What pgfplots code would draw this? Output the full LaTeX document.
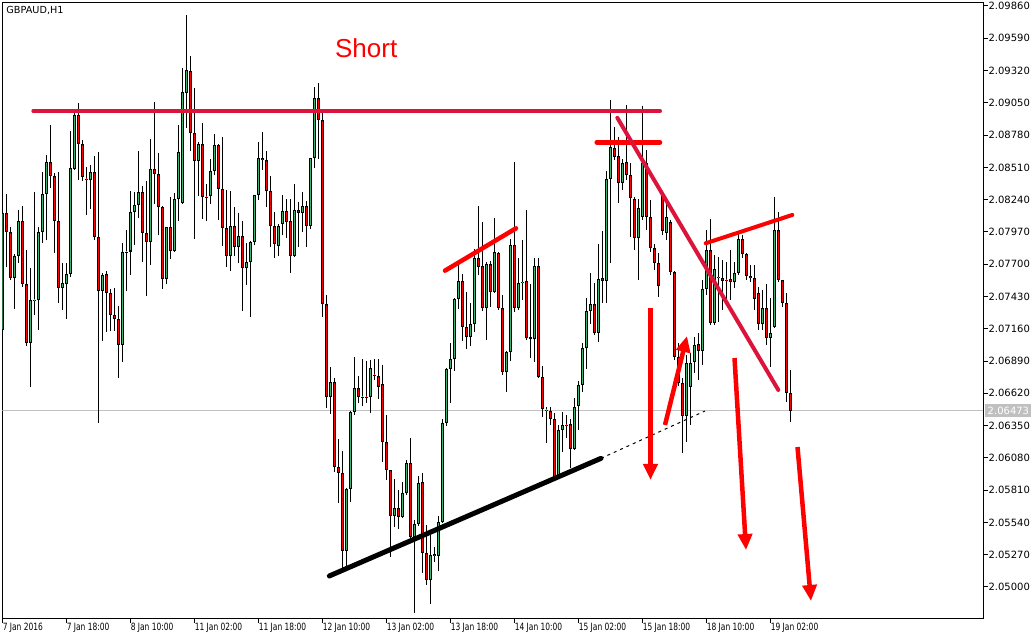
\documentclass[border=0pt]{standalone}
\usepackage{fontspec}
\setmainfont{DejaVu Sans}
\newfontfamily\xfont[FakeStretch=0.75]{DejaVu Sans}
\newfontfamily\shortfont{Liberation Sans}
\usepackage{pgfplots}
\usepackage{pgfplotstable}
\pgfplotsset{compat=1.18}
\usetikzlibrary{arrows.meta}
\definecolor{bullg}{RGB}{60,179,113}
\definecolor{bearr}{RGB}{255,0,0}
\definecolor{crim}{RGB}{220,20,60}
\definecolor{pgray}{RGB}{192,192,192}

\pgfplotstableread{
i o h l c
0 2.07150 2.08153 2.06798 2.08128
3 2.07585 2.07785 2.07325 2.07769
4 2.07769 2.08153 2.07710 2.08061
7 2.07041 2.07668 2.06673 2.07400
8 2.07400 2.08304 2.07275 2.07404
9 2.07400 2.08011 2.07150 2.07969
10 2.07969 2.08471 2.07877 2.08287
11 2.08287 2.08613 2.07902 2.08555
15 2.07501 2.07710 2.07317 2.07543
16 2.07534 2.07710 2.07242 2.07618
17 2.07618 2.08814 2.07593 2.08505
18 2.08496 2.08965 2.08488 2.08948
22 2.08404 2.08530 2.08162 2.08471
25 2.07476 2.07626 2.07058 2.07610
30 2.07024 2.07877 2.06882 2.07802
31 2.07802 2.07986 2.07476 2.07806
32 2.07806 2.08312 2.07610 2.08137
33 2.08137 2.08304 2.07861 2.08195
34 2.08195 2.08647 2.08086 2.08304
37 2.07886 2.08747 2.07693 2.08496
41 2.07576 2.08015 2.07534 2.08011
43 2.07810 2.08296 2.07802 2.08245
44 2.08245 2.08864 2.08061 2.08639
45 2.08212 2.09341 2.08205 2.09140
46 2.09132 2.09785 2.08839 2.09324
49 2.08563 2.08722 2.08270 2.08705
52 2.08270 2.08580 2.08204 2.08480
53 2.08480 2.08789 2.08446 2.08697
57 2.07769 2.08312 2.07643 2.08020
59 2.07844 2.08128 2.07710 2.07936
61 2.07668 2.07877 2.07526 2.07718
62 2.07718 2.07894 2.07258 2.07886
63 2.07886 2.08283 2.07861 2.08279
64 2.08279 2.08722 2.08237 2.08588
69 2.07852 2.08036 2.07769 2.08020
70 2.08036 2.08279 2.07944 2.08145
73 2.07769 2.08371 2.07760 2.08153
75 2.08128 2.08304 2.07969 2.08187
77 2.08020 2.08592 2.07994 2.08588
78 2.08588 2.09182 2.08505 2.09090
82 2.06589 2.06840 2.06447 2.06715
86 2.05301 2.05824 2.05167 2.05820
87 2.05820 2.06468 2.05711 2.06464
88 2.06464 2.06924 2.06439 2.06664
90 2.06589 2.06907 2.06514 2.06593
92 2.06589 2.06899 2.06455 2.06832
98 2.05594 2.05903 2.05502 2.05661
100 2.05585 2.05878 2.05577 2.05786
101 2.05786 2.06062 2.05769 2.06037
103 2.05418 2.05560 2.04782 2.05527
104 2.05527 2.05928 2.05510 2.05870
107 2.05058 2.05451 2.04858 2.05267
109 2.05259 2.05594 2.05134 2.05544
110 2.05544 2.06405 2.05535 2.06372
111 2.06372 2.06832 2.06347 2.06823
112 2.06823 2.07041 2.06539 2.06907
113 2.06907 2.07417 2.06807 2.07409
114 2.07409 2.07702 2.07325 2.07559
117 2.07091 2.07375 2.07016 2.07200
118 2.07200 2.07827 2.07133 2.07752
121 2.07334 2.07718 2.07066 2.07702
123 2.07467 2.08086 2.07459 2.07802
126 2.06798 2.06970 2.06631 2.06966
127 2.06966 2.07911 2.06890 2.07861
129 2.07334 2.07752 2.07317 2.07543
130 2.07543 2.07902 2.07400 2.07551
133 2.07074 2.07752 2.06882 2.07685
136 2.06480 2.06505 2.06204 2.06484
139 2.05920 2.06355 2.05912 2.06313
140 2.06313 2.06464 2.06129 2.06355
143 2.06154 2.06581 2.06146 2.06505
144 2.06514 2.06723 2.06313 2.06690
145 2.06690 2.07041 2.06631 2.06999
146 2.06999 2.07417 2.06823 2.07308
147 2.07308 2.07626 2.07200 2.07367
149 2.07124 2.07869 2.07049 2.07576
151 2.07559 2.08480 2.07375 2.08413
152 2.08413 2.09074 2.07710 2.08680
155 2.08379 2.08580 2.08321 2.08547
159 2.07919 2.08245 2.07568 2.08170
160 2.08095 2.09023 2.08070 2.08547
166 2.07961 2.08220 2.07902 2.08095
171 2.06430 2.06940 2.06213 2.06874
172 2.06673 2.06957 2.06355 2.06874
173 2.06882 2.07091 2.06790 2.07024
175 2.06974 2.07568 2.06857 2.07493
176 2.07493 2.07986 2.07442 2.07819
178 2.07208 2.07777 2.07191 2.07660
179 2.07585 2.07760 2.07217 2.07589
183 2.07551 2.07718 2.07501 2.07626
184 2.07626 2.07969 2.07610 2.07911
190 2.07200 2.07484 2.07150 2.07334
192 2.07083 2.07417 2.06840 2.07124
193 2.07175 2.08262 2.07170 2.07986
}\bull

\pgfplotstableread{
i o h l c
1 2.08128 2.08287 2.07677 2.07969
2 2.07969 2.08011 2.07568 2.07585
5 2.08061 2.08187 2.07509 2.07534
6 2.07534 2.07819 2.07016 2.07041
12 2.08555 2.08864 2.08337 2.08438
13 2.08438 2.08463 2.07794 2.08061
14 2.08061 2.08471 2.07375 2.07501
19 2.08948 2.09048 2.08404 2.08705
20 2.08705 2.08739 2.08396 2.08429
21 2.08413 2.08513 2.08112 2.08409
23 2.08471 2.08605 2.07902 2.07927
24 2.07927 2.08639 2.06372 2.07476
26 2.07618 2.07643 2.07133 2.07459
27 2.07459 2.07493 2.07141 2.07275
28 2.07275 2.07501 2.07141 2.07242
29 2.07242 2.07350 2.06748 2.07024
35 2.08304 2.08354 2.07718 2.07961
36 2.07961 2.08396 2.07434 2.07886
38 2.08496 2.09057 2.08204 2.08454
39 2.08454 2.08630 2.07944 2.08178
40 2.08178 2.08185 2.07493 2.07576
42 2.08011 2.08262 2.07743 2.07810
47 2.09316 2.09442 2.08647 2.08797
48 2.08797 2.09174 2.07911 2.08563
50 2.08705 2.08881 2.08078 2.08262
51 2.08266 2.08371 2.08061 2.08262
54 2.08697 2.08705 2.08070 2.08329
55 2.08329 2.08764 2.07852 2.08003
56 2.08003 2.08321 2.07677 2.07769
58 2.08020 2.08178 2.07769 2.07844
60 2.07936 2.08061 2.07308 2.07668
65 2.08588 2.08806 2.08488 2.08572
66 2.08572 2.08647 2.08178 2.08312
67 2.08312 2.08438 2.07844 2.08020
68 2.08020 2.08137 2.07752 2.07869
71 2.08145 2.08245 2.07919 2.08053
72 2.08061 2.08245 2.07626 2.07769
74 2.08153 2.08220 2.07844 2.08128
76 2.08187 2.08229 2.07844 2.08020
79 2.09090 2.09216 2.08580 2.08906
80 2.08906 2.08990 2.07258 2.07367
81 2.07367 2.07442 2.06497 2.06589
83 2.06715 2.06748 2.05962 2.06004
84 2.06004 2.06238 2.05702 2.05953
85 2.05953 2.06137 2.05159 2.05301
89 2.06664 2.06765 2.06539 2.06589
91 2.06593 2.06890 2.06539 2.06589
93 2.06777 2.06907 2.06731 2.06773
94 2.06765 2.06907 2.06572 2.06673
95 2.06698 2.06857 2.06045 2.06213
96 2.06213 2.06439 2.05895 2.05978
97 2.05978 2.05982 2.05251 2.05594
99 2.05661 2.05811 2.05485 2.05585
102 2.06037 2.06246 2.05393 2.05418
105 2.05878 2.05953 2.05117 2.05284
106 2.05284 2.05518 2.05017 2.05058
108 2.05275 2.05334 2.05209 2.05259
115 2.07559 2.07618 2.07058 2.07175
116 2.07175 2.07467 2.06991 2.07091
119 2.07752 2.08187 2.07610 2.07677
120 2.07685 2.08053 2.07308 2.07334
122 2.07702 2.07727 2.07342 2.07467
124 2.07794 2.07802 2.07317 2.07334
125 2.07334 2.07442 2.06773 2.06798
128 2.07861 2.08555 2.07300 2.07334
131 2.07559 2.08153 2.07066 2.07083
132 2.07091 2.07534 2.06915 2.07074
134 2.07685 2.07752 2.06748 2.06756
135 2.06756 2.06848 2.06422 2.06489
137 2.06472 2.06505 2.06355 2.06405
138 2.06405 2.06455 2.05904 2.05912
141 2.06355 2.06439 2.06246 2.06351
142 2.06363 2.06405 2.05995 2.06154
148 2.07367 2.07543 2.07108 2.07124
150 2.07585 2.07978 2.07375 2.07559
153 2.08672 2.08848 2.08572 2.08597
154 2.08605 2.08764 2.08212 2.08379
156 2.08555 2.09032 2.08404 2.08446
157 2.08446 2.08547 2.07927 2.08254
158 2.08245 2.08262 2.07819 2.07919
161 2.08547 2.08655 2.07986 2.08095
162 2.08095 2.08237 2.07802 2.07836
163 2.07836 2.07869 2.07651 2.07710
164 2.07710 2.07794 2.07426 2.07518
165 2.08270 2.08279 2.07944 2.07978
167 2.08053 2.08070 2.07610 2.07635
168 2.07635 2.07640 2.06899 2.06924
169 2.06924 2.07041 2.06681 2.06706
170 2.06706 2.06748 2.06121 2.06430
174 2.07032 2.07124 2.06731 2.06974
177 2.07819 2.08078 2.07191 2.07208
180 2.07585 2.07735 2.07317 2.07559
181 2.07568 2.07718 2.07375 2.07564
182 2.07576 2.07819 2.07400 2.07551
185 2.07911 2.07944 2.07752 2.07785
186 2.07785 2.07790 2.07568 2.07601
187 2.07601 2.07693 2.07551 2.07585
188 2.07585 2.07693 2.07317 2.07409
189 2.07459 2.07509 2.07150 2.07200
191 2.07334 2.07534 2.07024 2.07083
194 2.07986 2.08137 2.07551 2.07568
195 2.07568 2.07572 2.07342 2.07375
196 2.07375 2.07459 2.06547 2.06623
197 2.06623 2.06815 2.06380 2.06473
}\bear

\pgfplotsset{
  candlebar/.style 2 args={draw=none, mark=none,
    error bars/.cd, y dir=plus, y explicit, error mark=none,
    error bar style={line width=#1, draw=#2}},
}

\begin{document}
\begin{tikzpicture}
\begin{axis}[
  scale only axis, width=490.25pt, height=307.75pt,
  xmin=-0.02, xmax=245.105, ymin=2.0474043, ymax=2.098891,
  axis line style={line width=0.5pt, black},
  tick align=outside, major tick length=2.25pt,
  tick style={black, line width=0.5pt},
  xtick={0,16,32,48,64,80,96,112,128,144,160,176,192},
  xticklabels={7 Jan 2016,7 Jan 18:00,8 Jan 10:00,11 Jan 02:00,11 Jan 18:00,12 Jan 10:00,13 Jan 02:00,13 Jan 18:00,14 Jan 10:00,15 Jan 02:00,15 Jan 18:00,18 Jan 10:00,19 Jan 02:00},
  xtick pos=bottom,
  xticklabel style={font=\xfont\fontsize{5}{6}\selectfont, anchor=north west, inner sep=0pt, xshift=-0.1pt},
  ytick={2.05,2.0527,2.0554,2.0581,2.0608,2.0635,2.0662,2.0689,2.0716,2.0743,2.077,2.0797,2.0824,2.0851,2.0878,2.0905,2.0932,2.0959,2.0986},
  yticklabels={2.05000,2.05270,2.05540,2.05810,2.06080,2.06350,2.06620,2.06890,2.07160,2.07430,2.07700,2.07970,2.08240,2.08510,2.08780,2.09050,2.09320,2.09590,2.09860},
  ytick pos=right, yticklabel pos=right,
  yticklabel style={font=\fontsize{5}{6}\selectfont, anchor=west, inner sep=0pt, xshift=0.3pt},
  scaled y ticks=false,
]
% current price line
\addplot[pgray, line width=0.5pt] coordinates {(-0.02,2.06473) (245.105,2.06473)};
% wicks
\addplot[candlebar={0.5pt}{black}] table[x=i, y=l, y error plus expr=\thisrow{h}-\thisrow{l}] {\bull};
\addplot[candlebar={0.5pt}{black}] table[x=i, y=l, y error plus expr=\thisrow{h}-\thisrow{l}] {\bear};
% bodies: outline
\addplot[candlebar={1.5pt}{black}] table[x=i, y=o, y error plus expr=\thisrow{c}-\thisrow{o}] {\bull};
\addplot[candlebar={1.5pt}{black}] table[x=i, y=c, y error plus expr=\thisrow{o}-\thisrow{c}] {\bear};
% bodies: fill
\addplot[candlebar={0.5pt}{bullg}] table[x=i, y expr=\thisrow{o}+0.00009, y error plus expr=\thisrow{c}-\thisrow{o}-0.00017] {\bull};
\addplot[candlebar={0.5pt}{bearr}] table[x=i, y expr=\thisrow{c}+0.00009, y error plus expr=\thisrow{o}-\thisrow{c}-0.00017] {\bear};

% annotations
\addplot[crim, line width=2pt, line cap=round] coordinates {(7.68,2.08981) (164.36,2.08981)};
\addplot[red, line width=2.25pt, line cap=round] coordinates {(148.53,2.08720) (164.36,2.08720)};
\addplot[crim, line width=2pt, line cap=round] coordinates {(153.68,2.08925) (193.93,2.06648)};
\addplot[red, line width=2.25pt, line cap=round] coordinates {(110.6,2.07646) (128.35,2.08000)};
\addplot[red, line width=2pt, line cap=round] coordinates {(175.78,2.07875) (197.43,2.08112)};
\addplot[black, line width=2.5pt, line cap=round] coordinates {(81.68,2.05092) (149.6,2.06076)};
\addplot[black, line width=0.5pt, dash pattern=on 1.5pt off 2pt] coordinates {(149.6,2.06076) (175.6,2.06472)};
\addplot[red, line width=2.25pt, -{Triangle[length=8pt,width=7pt]}] coordinates {(161.98,2.07334) (161.98,2.05895)};
\addplot[red, line width=2.25pt, -{Triangle[length=8pt,width=7pt]}] coordinates {(165.6,2.06355) (171.1,2.07099)};
\addplot[red, line width=2.25pt, -{Triangle[length=8pt,width=7pt]}] coordinates {(182.98,2.06915) (185.86,2.05309)};
\addplot[red, line width=2.25pt, -{Triangle[length=8pt,width=7pt]}] coordinates {(198.73,2.06171) (202.1,2.04883)};

\node[text=red, font=\shortfont\fontsize{13}{15}\selectfont] at (axis cs:90.9,2.09508) {Short};
\node[anchor=base west, inner sep=0pt, font=\fontsize{4.85}{6}\selectfont, xshift=1.75pt, yshift=-5.4pt] at (rel axis cs:0,1) {GBPAUD,H1};

\coordinate (SW) at (rel axis cs:0,0);
\coordinate (P) at (axis cs:245.105,2.06473);
\end{axis}
\node[fill=pgray, text=white, anchor=west, inner sep=0pt, minimum width=23pt, minimum height=6.5pt, font=\fontsize{5}{6}\selectfont] at ([xshift=1pt]P) {2.06473};
\path (SW) ++(-1.25pt,-10.5pt) rectangle ++(518pt,319.5pt);
\end{tikzpicture}
\end{document}
